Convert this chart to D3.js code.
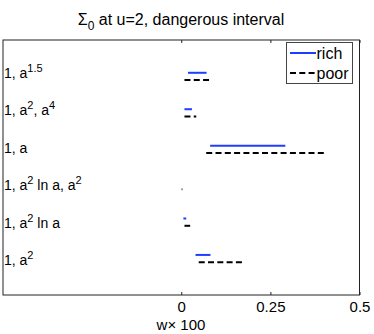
<!DOCTYPE html>
<html>
<head>
<meta charset="utf-8">
<script src="https://cdn.jsdelivr.net/npm/d3@7"></script>
<style>
  html, body { margin: 0; padding: 0; background: #fff; }
  svg { display: block; font-family: "Liberation Sans", Arial, Helvetica, sans-serif; }
</style>
</head>
<body>
<svg id="chart" width="374" height="334"></svg>
<script>
// ---- data ----
const categories = [
  [["1, a"], ["1.5", "sup"]],
  [["1, a"], ["2", "sup"], [", a"], ["4", "sup"]],
  [["1, a"]],
  [["1, a"], ["2", "sup"], [" ln a, a"], ["2", "sup"]],
  [["1, a"], ["2", "sup"], [" ln a"]],
  [["1, a"], ["2", "sup"]]
];
const richStart = [0.019, 0.009, 0.081, 0.002, 0.006, 0.040];
const richEnd   = [0.071, 0.030, 0.292, 0.002, 0.014, 0.082];
const poorStart = [0.009, 0.009, 0.070, 0.0012, 0.009, 0.049];
const poorEnd   = [0.079, 0.042, 0.402, 0.0032, 0.025, 0.174];
const xTicks = [0, 0.25, 0.5];
const xTickLabels = ["0", "0.25", "0.5"];
const seriesNames = ["rich", "poor"];

// ---- layout ----
const svg = d3.select("#chart");
const L = 3, R = 359.5, T = 40, B = 295;
const x = d3.scaleLinear().domain([-0.5, 0.5]).range([L, R]);
const y = d3.scaleLinear().domain([0, 7]).range([T, B]);
// label baselines (text rows are spaced slightly wider than the marks)
const yText = d3.scaleLinear().domain([1, 6]).range([77.5, 265]);

// title
const title = svg.append("text")
  .attr("x", 181).attr("y", 25)
  .attr("text-anchor", "middle")
  .attr("font-size", 16).attr("fill", "#000");
title.append("tspan").text("\u03A3");
title.append("tspan").attr("dy", 5).attr("font-size", 12).text("0");
title.append("tspan").attr("dy", -5).text(" at u=2, dangerous interval");

// axes box
svg.append("rect")
  .attr("x", L).attr("y", T).attr("width", R - L).attr("height", B - T)
  .attr("fill", "none").attr("stroke", "#222").attr("stroke-width", 1);

const xb = d3.axisBottom(x).tickValues(xTicks).tickSize(-3).tickPadding(6)
  .tickFormat((d, i) => xTickLabels[i]);
const gx = svg.append("g").attr("transform", `translate(0,${B})`).call(xb);
gx.select(".domain").remove();
gx.selectAll("line").attr("stroke", "#222");
gx.selectAll("text").attr("font-size", 15).attr("fill", "#000")
  .attr("font-family", "Liberation Sans, Arial, sans-serif")
  .attr("y", 17).attr("dy", 0);

const xt = d3.axisTop(x).tickValues(xTicks).tickSize(-3).tickFormat("");
const gxt = svg.append("g").attr("transform", `translate(0,${T})`).call(xt);
gxt.select(".domain").remove();
gxt.selectAll("line").attr("stroke", "#222");

// x label
svg.append("text").attr("x", 181).attr("y", 330)
  .attr("text-anchor", "middle").attr("font-size", 15).attr("fill", "#000")
  .text("w\u00D7 100");

// category labels (inside axes)
categories.forEach((segs, i) => {
  const t = svg.append("text")
    .attr("x", 4).attr("y", yText(i + 1))
    .attr("font-size", 14).attr("fill", "#000");
  let raised = false;
  segs.forEach(s => {
    const sp = t.append("tspan").text(s[0]);
    if (s[1] === "sup") {
      sp.attr("font-size", 11).attr("dy", raised ? 0 : -6);
      raised = true;
    } else if (raised) {
      sp.attr("dy", 6);
      raised = false;
    }
  });
});

// intervals
const rows = d3.range(categories.length);
svg.append("g").selectAll("line.rich").data(rows).join("line")
  .attr("class", "rich")
  .attr("x1", i => x(richStart[i])).attr("x2", i => x(richEnd[i]))
  .attr("y1", i => y(i + 1 - 0.1)).attr("y2", i => y(i + 1 - 0.1))
  .attr("stroke", "#1f3dff").attr("stroke-width", 2);

svg.append("g").selectAll("line.poor").data(rows).join("line")
  .attr("class", "poor")
  .attr("x1", i => x(poorStart[i])).attr("x2", i => x(poorEnd[i]))
  .attr("y1", i => y(i + 1 + 0.1)).attr("y2", i => y(i + 1 + 0.1))
  .attr("stroke", "#000").attr("stroke-width", 2)
  .attr("stroke-dasharray", "6,3.3");

// legend
const lg = svg.append("g");
lg.append("rect").attr("x", 286.5).attr("y", 42.5).attr("width", 66).attr("height", 41)
  .attr("fill", "#fff").attr("stroke", "#444").attr("stroke-width", 1);
[["#1f3dff", null], ["#000", "6,3.3"]].forEach((st, k) => {
  const yy = 53 + k * 20;
  const ln = lg.append("line").attr("x1", 290).attr("x2", 316)
    .attr("y1", yy).attr("y2", yy)
    .attr("stroke", st[0]).attr("stroke-width", 2);
  if (st[1]) ln.attr("stroke-dasharray", st[1]);
  lg.append("text").attr("x", 316.5).attr("y", yy + 5.5)
    .attr("font-size", 16).attr("fill", "#000").text(seriesNames[k]);
});
</script>
</body>
</html>
